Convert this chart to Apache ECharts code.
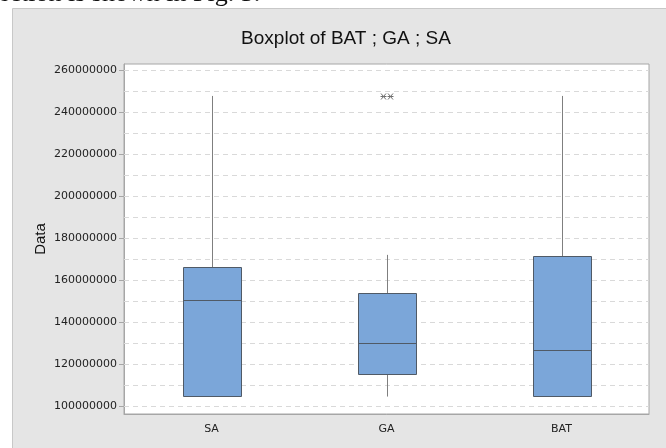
<!DOCTYPE html>
<html>
<head>
<meta charset="utf-8">
<style>
  html, body { margin: 0; padding: 0; background: #ffffff; }
  #chart { width: 666px; height: 448px; }
</style>
<script src="https://cdn.jsdelivr.net/npm/echarts@6/dist/echarts.min.js"></script>
</head>
<body>
<div id="chart"></div>
<script>
// Groups on the x axis
const categories = ['SA', 'GA', 'BAT'];

// Five-number summaries per group: [min whisker, Q1, median, Q3, max whisker]
const saStats  = [104.8e6, 104.8e6, 150.4e6, 166.1e6, 247.6e6];
const gaStats  = [104.6e6, 115.2e6, 130.1e6, 154.0e6, 172.0e6];
const batStats = [104.9e6, 104.9e6, 126.6e6, 171.6e6, 247.6e6];

// Outliers: [group index, value]
const outliers = [[1, 247.6e6], [1, 247.6e6]];

// Labelled y ticks and dashed reference levels
const yTickValues = [100e6, 120e6, 140e6, 160e6, 180e6, 200e6, 220e6, 240e6, 260e6];
const yGridValues = [100e6, 110e6, 120e6, 130e6, 140e6, 150e6, 160e6, 170e6, 180e6,
                     190e6, 200e6, 210e6, 220e6, 230e6, 240e6, 250e6, 260e6];

// Value range of the y axis
const yMin = 96.3e6;
const yMax = 262.8e6;

const boxRows = [saStats, gaStats, batStats].map((s, i) => [i].concat(s));
const gridRows = yGridValues.map(v => [0, v]);

const chart = echarts.init(document.getElementById('chart'), null, { renderer: 'canvas' });

const BOX_FILL = '#7ba6d9';
const BOX_EDGE = '#505a66';
const WHISKER = '#7f7f7f';

function renderGridLine(params, api) {
  const cs = params.coordSys;
  const y = Math.round(api.coord([0, api.value(1)])[1]) + 0.5;
  return {
    type: 'line',
    shape: { x1: cs.x, y1: y, x2: cs.x + cs.width, y2: y },
    style: { stroke: '#d9d9d9', lineWidth: 1, lineDash: [5, 4] },
    silent: true
  };
}

function renderBox(params, api) {
  const idx = api.value(0);
  const x = Math.round(api.coord([idx, api.value(3)])[0]) + 0.5;
  const yLo = api.coord([idx, api.value(1)])[1];
  const yQ1 = Math.round(api.coord([idx, api.value(2)])[1]) + 0.5;
  const yMed = Math.round(api.coord([idx, api.value(3)])[1]) + 0.5;
  const yQ3 = Math.round(api.coord([idx, api.value(4)])[1]) + 0.5;
  const yHi = api.coord([idx, api.value(5)])[1];
  const half = Math.round(api.size([1, 0])[0] * 0.331 / 2);
  const children = [];
  if (yHi < yQ3) {
    children.push({ type: 'line', shape: { x1: x, y1: yHi, x2: x, y2: yQ3 },
      style: { stroke: WHISKER, lineWidth: 1 } });
  }
  if (yLo > yQ1) {
    children.push({ type: 'line', shape: { x1: x, y1: yQ1, x2: x, y2: yLo },
      style: { stroke: WHISKER, lineWidth: 1 } });
  }
  children.push({ type: 'rect',
    shape: { x: x - half, y: yQ3, width: half * 2, height: yQ1 - yQ3 },
    style: { fill: BOX_FILL, stroke: BOX_EDGE, lineWidth: 1 } });
  children.push({ type: 'line',
    shape: { x1: x - half, y1: yMed, x2: x + half, y2: yMed },
    style: { stroke: BOX_EDGE, lineWidth: 1 } });
  return { type: 'group', children: children };
}

// Repeated outliers of a group are set side by side
function outlierSlot(i) {
  let before = 0, total = 0;
  outliers.forEach((o, j) => {
    if (o[0] === outliers[i][0] && o[1] === outliers[i][1]) {
      total++;
      if (j < i) before++;
    }
  });
  return before - (total - 1) / 2;
}

function renderOutlier(params, api) {
  const p = api.coord([api.value(0), api.value(1)]);
  const cx = Math.round(p[0] + outlierSlot(params.dataIndex) * 7) + 0.5;
  const cy = Math.round(p[1]) + 0.5;
  const r = 3;
  const st = { stroke: '#6e6e6e', lineWidth: 1 };
  return {
    type: 'group',
    children: [
      { type: 'line', shape: { x1: cx - r, y1: cy, x2: cx + r, y2: cy }, style: st },
      { type: 'line', shape: { x1: cx - r + 0.5, y1: cy - r, x2: cx + r - 0.5, y2: cy + r }, style: st },
      { type: 'line', shape: { x1: cx - r + 0.5, y1: cy + r, x2: cx + r - 0.5, y2: cy - r }, style: st }
    ]
  };
}

const option = {
  backgroundColor: '#ffffff',
  animation: false,
  title: {
    text: 'Boxplot of BAT ; GA ; SA',
    left: 346,
    top: 29,
    textAlign: 'center',
    padding: 0,
    textStyle: { fontFamily: 'Liberation Sans', fontSize: 19, fontWeight: 'normal', color: '#111111' }
  },
  graphic: [
    {
      type: 'rect', z: -10, silent: true,
      shape: { x: 12.5, y: 8.5, width: 700, height: 500 },
      style: { fill: '#e5e5e5', stroke: '#c8c8c8', lineWidth: 1 }
    },
    {
      type: 'text', z: -5, silent: true,
      style: {
        text: 'ection is shown in Fig. 3.',
        x: -2, y: 7,
        verticalAlign: 'bottom',
        font: '26px "Liberation Serif"',
        fill: '#111111'
      }
    }
  ],
  grid: {
    left: 124, right: 17, top: 64, bottom: 34,
    show: true,
    backgroundColor: '#ffffff',
    borderColor: '#a6a6a6',
    borderWidth: 1
  },
  xAxis: {
    type: 'category',
    data: categories,
    boundaryGap: true,
    axisLine: { lineStyle: { color: '#a6a6a6' } },
    axisTick: { alignWithLabel: true, length: 4, lineStyle: { color: '#a6a6a6' } },
    axisLabel: { fontFamily: 'DejaVu Sans', fontSize: 11, color: '#222222', margin: 10 },
    splitLine: { show: false }
  },
  yAxis: {
    type: 'value',
    min: yMin,
    max: yMax,
    name: 'Data',
    nameLocation: 'middle',
    nameRotate: 90,
    nameGap: 76,
    nameMoveOverlap: false,
    nameTextStyle: { fontFamily: 'Liberation Sans', fontSize: 15, color: '#111111' },
    axisLine: { show: true, lineStyle: { color: '#a6a6a6' } },
    axisTick: { show: true, length: 5, customValues: yTickValues, lineStyle: { color: '#a6a6a6' } },
    axisLabel: {
      customValues: yTickValues,
      fontFamily: 'DejaVu Sans', fontSize: 11, color: '#222222', margin: 7,
      formatter: v => String(Math.round(v))
    },
    splitLine: { show: false }
  },
  series: [
    {
      type: 'custom', name: 'levels', z: 1, silent: true,
      encode: { x: 0, y: 1 },
      data: gridRows,
      renderItem: renderGridLine
    },
    {
      type: 'custom', name: 'boxes', z: 3,
      encode: { x: 0, y: [1, 2, 3, 4, 5] },
      data: boxRows,
      renderItem: renderBox
    },
    {
      type: 'custom', name: 'outliers', z: 4,
      encode: { x: 0, y: 1 },
      data: outliers,
      renderItem: renderOutlier
    }
  ]
};

chart.setOption(option);
</script>
</body>
</html>
